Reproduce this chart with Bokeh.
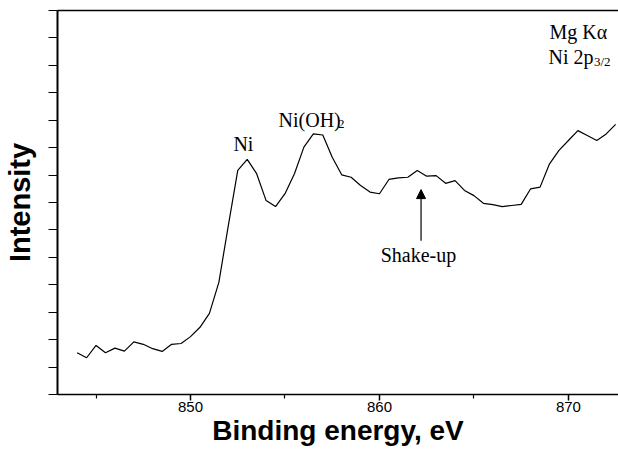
from bokeh.plotting import figure
from bokeh.models import (Range1d, FixedTicker, Label, Arrow, NormalHead,
                          CustomJSTickFormatter, LinearAxis)
from bokeh.embed import file_html
from bokeh.resources import INLINE

# Binding energy (eV) and intensity (arb. units)
energy = [844.0, 844.5, 845.0, 845.5, 846.0, 846.5, 847.0, 847.5, 848.0, 848.5,
          849.0, 849.5, 850.0, 850.5, 851.0, 851.5, 852.0, 852.5, 853.0, 853.5,
          854.0, 854.5, 855.0, 855.5, 856.0, 856.5, 857.0, 857.5, 858.0, 858.5,
          859.0, 859.5, 860.0, 860.5, 861.0, 861.5, 862.0, 862.5, 863.0, 863.5,
          864.0, 864.5, 865.0, 865.5, 866.0, 866.5, 867.0, 867.5, 868.0, 868.5,
          869.0, 869.5, 870.0, 870.5, 871.0, 871.5, 872.0, 872.5]
intensity = [1.52, 1.34, 1.79, 1.52, 1.69, 1.58, 1.92, 1.83, 1.67, 1.57,
             1.83, 1.86, 2.11, 2.45, 2.96, 4.09, 6.16, 8.17, 8.57, 8.05,
             7.07, 6.85, 7.32, 8.05, 9.02, 9.50, 9.46, 8.65, 8.01, 7.92,
             7.62, 7.38, 7.32, 7.84, 7.90, 7.92, 8.17, 7.96, 7.98, 7.70,
             7.80, 7.44, 7.25, 6.97, 6.92, 6.85, 6.89, 6.93, 7.50, 7.56,
             8.41, 8.90, 9.26, 9.62, 9.44, 9.26, 9.50, 9.85]

x_major_ticks = [850, 860, 870]
x_minor_ticks = [845, 855, 865]
y_ticks = [0, 1, 2, 3, 4, 5, 6, 7, 8, 9, 10, 11, 12, 13, 14]

p = figure(width=618, height=450, output_backend="svg", toolbar_location=None,
           x_range=Range1d(842.96, 872.65), y_range=Range1d(0, 14),
           min_border_left=57, min_border_right=0, min_border_top=10,
           min_border_bottom=56)
p.outline_line_color = None
p.xgrid.visible = False
p.ygrid.visible = False
p.background_fill_color = "white"
p.border_fill_color = "white"

p.line(energy, intensity, line_color="black", line_width=1.2)

xa = p.below[0]
ya = p.left[0]

# top border as an unlabeled axis
top = LinearAxis(ticker=FixedTicker(ticks=[]), formatter=CustomJSTickFormatter(code="return ''"),
                 axis_line_width=1.5, axis_line_color="black",
                 major_tick_in=0, major_tick_out=0, minor_tick_in=0, minor_tick_out=0,
                 major_label_standoff=0, axis_label_standoff=0)
p.add_layout(top, "above")

xa.ticker = FixedTicker(ticks=x_major_ticks, minor_ticks=x_minor_ticks)
xa.axis_line_width = 1.5
xa.major_tick_in = 0
xa.major_tick_out = 6
xa.minor_tick_in = 0
xa.minor_tick_out = 4
xa.major_tick_line_width = 1.5
xa.minor_tick_line_width = 1.2
xa.major_label_text_font = "Liberation Sans"
xa.major_label_text_font_size = "15px"
xa.major_label_text_color = "black"
xa.major_label_standoff = 1
xa.axis_label = "Binding energy, eV"
xa.axis_label_text_font = "Liberation Sans"
xa.axis_label_text_font_style = "bold"
xa.axis_label_text_font_size = "28px"
xa.axis_label_text_color = "black"
xa.axis_label_standoff = 0

ya.ticker = FixedTicker(ticks=y_ticks, minor_ticks=[])
ya.formatter = CustomJSTickFormatter(code="return ''")
ya.axis_line_width = 2
ya.major_tick_in = 0
ya.major_tick_out = 9
ya.major_tick_line_width = 1.2
ya.minor_tick_out = 0
ya.minor_tick_in = 0
ya.major_label_standoff = 0
ya.axis_label = "Intensity"
ya.axis_label_text_font = "Liberation Sans"
ya.axis_label_text_font_style = "bold"
ya.axis_label_text_font_size = "29px"
ya.axis_label_text_color = "black"
ya.axis_label_standoff = 13

serif = "Liberation Serif"
def lab(x, y, t, size="20px", align="left"):
    p.add_layout(Label(x=x, y=y, text=t, text_font=serif, text_font_size=size,
                       text_align=align, text_baseline="alphabetic", text_color="black"))

lab(852.8, 9.12, "Ni", align="center")
lab(854.66, 10.02, "Ni(OH)")
lab(857.8, 9.87, "2", size="13px")
lab(869.0, 13.22, "Mg K\u03b1")
lab(868.95, 12.32, "Ni 2p")
lab(871.35, 12.13, "3/2", size="13px")
lab(862.06, 5.08, "Shake-up", align="center")

p.add_layout(Arrow(end=NormalHead(size=9, fill_color="black", line_color="black"),
                   x_start=862.2, y_start=5.61, x_end=862.2, y_end=7.47,
                   line_color="black", line_width=1.2))

open("out.html", "w").write(file_html(p, INLINE))
